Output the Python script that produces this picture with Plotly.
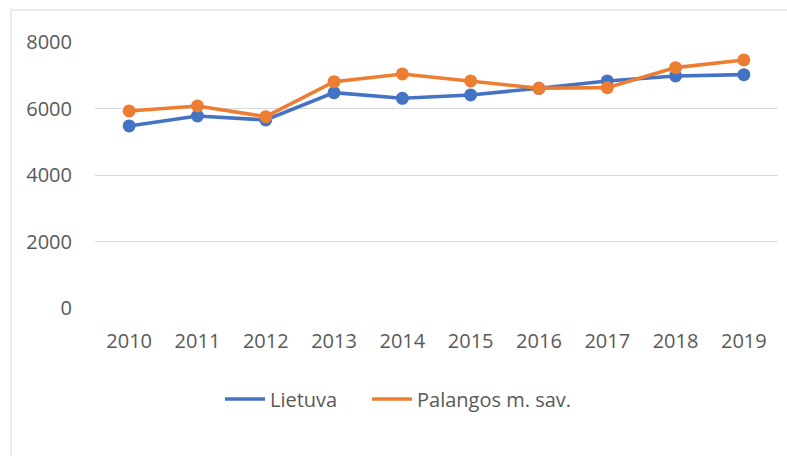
import plotly.graph_objects as go

years = ["2010", "2011", "2012", "2013", "2014", "2015", "2016", "2017", "2018", "2019"]
lietuva = [5475, 5775, 5655, 6477, 6307, 6407, 6608, 6828, 6979, 7018]
palanga = [5926, 6076, 5755, 6807, 7039, 6828, 6608, 6627, 7229, 7460]
series_names = ["Lietuva", "Palangos m. sav."]
colors = ["#4472C4", "#ED7D31"]
y_ticks = [0, 2000, 4000, 6000, 8000]

W, H = 787, 456
L, R, T, B = 95, 9, 42, 148
pw, ph = W - L - R, H - T - B

fig = go.Figure()
for name, vals, c in zip(series_names, [lietuva, palanga], colors):
    fig.add_trace(go.Scatter(x=years, y=vals, mode="lines+markers", name=name,
                             line=dict(color=c, width=3.6),
                             marker=dict(color=c, size=13),
                             showlegend=False))
for name, c, lg in zip(series_names, colors, ["legend", "legend2"]):
    fig.add_trace(go.Scatter(x=[years[0]], y=[None], mode="lines", name=name,
                             line=dict(color=c, width=3.6), showlegend=True, legend=lg))

def px_x(p):
    return (p - L) / pw

def px_y(p):
    return (H - B - p) / ph

fig.add_shape(type="rect", xref="paper", yref="paper",
              x0=px_x(11), x1=px_x(800), y0=px_y(470), y1=px_y(10),
              line=dict(color="#d9d9d9", width=1), fillcolor="rgba(0,0,0,0)", layer="below")

leg_common = dict(orientation="h", yanchor="middle", xanchor="left", y=px_y(399),
                  font=dict(size=20, color="#595959"), itemwidth=40,
                  bgcolor="rgba(0,0,0,0)")

fig.update_layout(
    width=W, height=H,
    margin=dict(l=L, r=R, t=T, b=B),
    paper_bgcolor="white", plot_bgcolor="white",
    font=dict(family="Open Sans", size=20, color="#595959"),
    xaxis=dict(type="category", range=[-0.5, 9.5], showgrid=False, showline=False,
               zeroline=False, ticks="", ticklabelstandoff=19, fixedrange=True),
    yaxis=dict(range=[0, 8000], tickvals=y_ticks, showgrid=True, gridcolor="#d9d9d9",
               gridwidth=1, zeroline=False, showline=False, ticks="",
               ticklabelstandoff=22, fixedrange=True),
    legend=dict(x=px_x(220), **leg_common),
    legend2=dict(x=px_x(367), **leg_common),
    showlegend=True,
)

fig.write_html("out.html", config={"displayModeBar": False},
               post_script="document.body.style.margin='0';")
